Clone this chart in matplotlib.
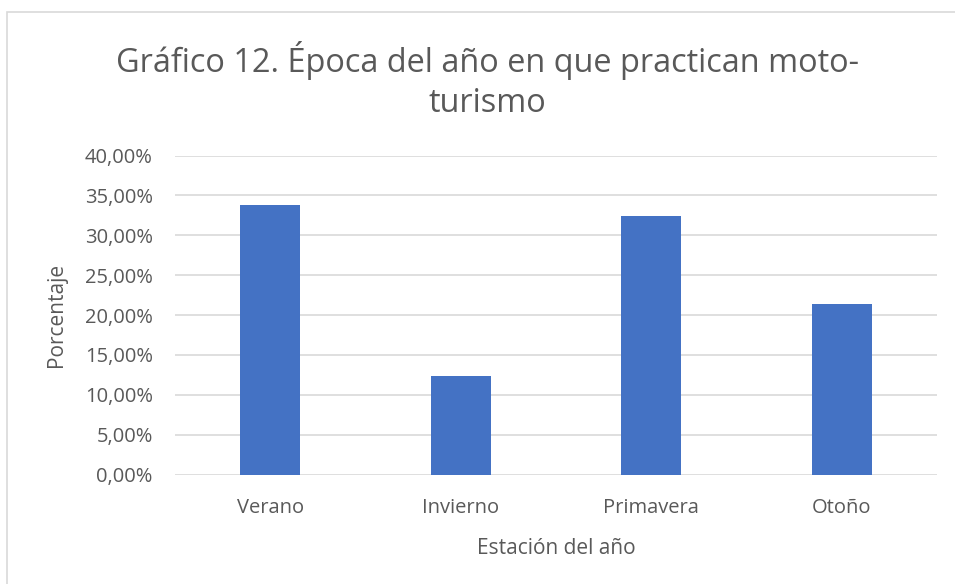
import matplotlib
matplotlib.use('Agg')
import matplotlib.pyplot as plt
from matplotlib.ticker import FuncFormatter
from matplotlib.patches import Rectangle

# datos
estaciones = ['Verano', 'Invierno', 'Primavera', 'Otoño']
porcentajes = [33.76, 12.35, 32.45, 21.42]
yticks = [0, 5, 10, 15, 20, 25, 30, 35, 40]

TXT = '#595959'
plt.rcParams['font.family'] = ['Open Sans', 'DejaVu Sans']

W, H = 955, 584
fig = plt.figure(figsize=(W / 100, H / 100), dpi=100)
ax = fig.add_axes([175 / W, 1 - 474.5 / H, (937 - 175) / W, (474.5 - 155.5) / H])

ax.bar(range(len(estaciones)), porcentajes, width=0.315, color='#4472C4', zorder=3)
ax.set_xlim(-0.5, len(estaciones) - 0.5)
ax.set_ylim(0, 40)
ax.set_yticks(yticks)
ax.yaxis.set_major_formatter(FuncFormatter(lambda v, p: f'{v:.2f}'.replace('.', ',') + '%'))
ax.set_xticks(range(len(estaciones)))
ax.set_xticklabels(estaciones)
ax.grid(axis='y', color='#D9D9D9', linewidth=1.2, zorder=0)
for s in ax.spines.values():
    s.set_visible(False)
ax.tick_params(length=0, labelsize=14.5, colors=TXT)
ax.tick_params(axis='y', pad=16)
ax.tick_params(axis='x', pad=17)

ax.set_ylabel('Porcentaje', fontsize=15, color=TXT, labelpad=13)
ax.set_xlabel('Estación del año', fontsize=15, color=TXT, labelpad=14)

# título en dos líneas
fig.text(487 / W, 1 - 60 / H, 'Gráfico 12. Época del año en que practican moto-',
         ha='center', va='center', fontsize=23.4, color=TXT)
fig.text(487 / W, 1 - 103 / H, 'turismo',
         ha='center', va='center', fontsize=23.4, color=TXT)

# borde del gráfico
fig.patches.append(Rectangle((6.5 / W, -0.1), 1.2, 1 - 11.5 / H + 0.1, transform=fig.transFigure,
                             fill=False, edgecolor='#D9D9D9', linewidth=1.2))

fig.savefig('out.png', dpi=100)
